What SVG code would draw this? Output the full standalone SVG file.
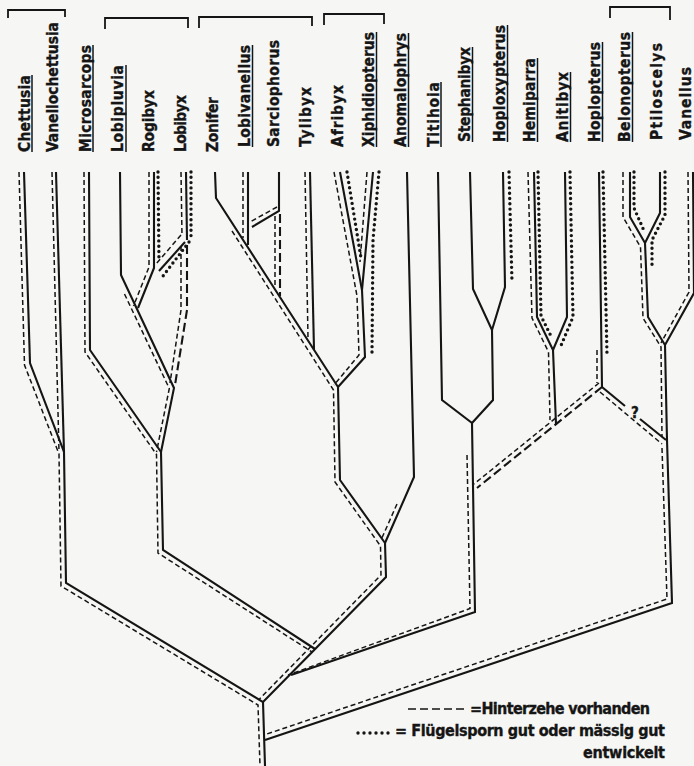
<svg xmlns="http://www.w3.org/2000/svg" width="694" height="766" viewBox="0 0 694 766">
<style>
.s{fill:none;stroke:#151515;stroke-width:2.1;stroke-linejoin:miter}
.d{fill:none;stroke:#151515;stroke-width:1.5;stroke-dasharray:5 3}
.l{fill:none;stroke:#151515;stroke-width:2.1;stroke-dasharray:9 4}
.p{fill:none;stroke:#151515;stroke-width:3.4;stroke-dasharray:0 5.3;stroke-linecap:round}
.b{fill:none;stroke:#151515;stroke-width:1.8}
.u{stroke:#151515;stroke-width:1.5}
text{font-family:"Liberation Sans Narrow","DejaVu Sans Condensed","Liberation Sans",sans-serif;font-weight:bold;fill:#151515;stroke:#151515;stroke-width:0.35}
.t{font-size:15.5px}
.lg{font-size:16px}
</style>
<rect width="694" height="766" fill="#f6f6f4"/>

<g id="brackets">
<path class="b" d="M8,18 V10 H65 V17"/>
<path class="b" d="M105,29 V18 H188 V28"/>
<path class="b" d="M199,28 V17 H312 V26"/>
<path class="b" d="M324,25 V14 H384 V24"/>
<path class="b" d="M610,18 V7 H670 V20"/>
</g>

<g id="n-chettusia"><text class="t" transform="translate(30,152) rotate(-90)" textLength="77" lengthAdjust="spacing">Chettusia</text><line class="u" x1="32" y1="152" x2="32" y2="75"/></g>
<g id="n-vanellochettusia"><text class="t" transform="translate(58,152) rotate(-90)" textLength="130" lengthAdjust="spacing">Vanellochettusia</text></g>
<g id="n-microsarcops"><text class="t" transform="translate(91,152) rotate(-90)" textLength="107" lengthAdjust="spacing">Microsarcops</text><line class="u" x1="93" y1="152" x2="93" y2="45"/></g>
<g id="n-lobipluvia"><text class="t" transform="translate(123,152) rotate(-90)" textLength="87" lengthAdjust="spacing">Lobipluvia</text><line class="u" x1="126" y1="152" x2="126" y2="65"/></g>
<g id="n-rogibyx"><text class="t" transform="translate(154,152) rotate(-90)" textLength="62" lengthAdjust="spacing">Rogibyx</text></g>
<g id="n-lobibyx"><text class="t" transform="translate(186,152) rotate(-90)" textLength="57" lengthAdjust="spacing">Lobibyx</text></g>
<g id="n-zonifer"><text class="t" transform="translate(218,152) rotate(-90)" textLength="55" lengthAdjust="spacing">Zonifer</text></g>
<g id="n-lobivanellus"><text class="t" transform="translate(250,147) rotate(-90)" textLength="102" lengthAdjust="spacing">Lobivanellus</text><line class="u" x1="252.5" y1="147" x2="252.5" y2="45"/></g>
<g id="n-sarciophorus"><text class="t" transform="translate(279,147) rotate(-90)" textLength="107" lengthAdjust="spacing">Sarciophorus</text></g>
<g id="n-tylibyx"><text class="t" transform="translate(311,147) rotate(-90)" textLength="60" lengthAdjust="spacing">Tylibyx</text></g>
<g id="n-afribyx"><text class="t" transform="translate(343,147) rotate(-90)" textLength="62" lengthAdjust="spacing">Afribyx</text></g>
<g id="n-xiphidiopterus"><text class="t" transform="translate(374,147) rotate(-90)" textLength="115" lengthAdjust="spacing">Xiphidiopterus</text><line class="u" x1="376.5" y1="147" x2="376.5" y2="32"/></g>
<g id="n-anomalophrys"><text class="t" transform="translate(406,147) rotate(-90)" textLength="114" lengthAdjust="spacing">Anomalophrys</text><line class="u" x1="408.5" y1="147" x2="408.5" y2="33"/></g>
<g id="n-titihoia"><text class="t" transform="translate(439,147) rotate(-90)" textLength="65" lengthAdjust="spacing">Titihoia</text><line class="u" x1="441" y1="147" x2="441" y2="82"/></g>
<g id="n-stephanibyx"><text class="t" transform="translate(470,142) rotate(-90)" textLength="95" lengthAdjust="spacing">Stephanibyx</text><line class="u" x1="472.5" y1="142" x2="472.5" y2="47"/></g>
<g id="n-hoploxypterus"><text class="t" transform="translate(505,142) rotate(-90)" textLength="117" lengthAdjust="spacing">Hoploxypterus</text><line class="u" x1="507.5" y1="142" x2="507.5" y2="25"/></g>
<g id="n-hemiparra"><text class="t" transform="translate(535,142) rotate(-90)" textLength="84" lengthAdjust="spacing">Hemiparra</text><line class="u" x1="537.5" y1="142" x2="537.5" y2="58"/></g>
<g id="n-anitibyx"><text class="t" transform="translate(568,142) rotate(-90)" textLength="70" lengthAdjust="spacing">Anitibyx</text><line class="u" x1="570.5" y1="142" x2="570.5" y2="72"/></g>
<g id="n-hoplopterus"><text class="t" transform="translate(600,142) rotate(-90)" textLength="100" lengthAdjust="spacing">Hoplopterus</text><line class="u" x1="602.5" y1="142" x2="602.5" y2="42"/></g>
<g id="n-belonopterus"><text class="t" transform="translate(630,142) rotate(-90)" textLength="110" lengthAdjust="spacing">Belonopterus</text><line class="u" x1="632.5" y1="142" x2="632.5" y2="32"/></g>
<g id="n-ptiloscelys"><text class="t" transform="translate(662,140) rotate(-90)" textLength="97" lengthAdjust="spacing">Ptiloscelys</text></g>
<g id="n-vanellus"><text class="t" transform="translate(691,140) rotate(-90)" textLength="73" lengthAdjust="spacing">Vanellus</text></g>

<g id="connectors">
<path class="s" d="M24,172 L30,363 L64,452 L66,583 L263,702 L265,766"/>
<path class="s" d="M56,172 L64,452"/>
<path class="s" d="M89,172 L90,350 L161,452 L163,550 L315,649"/>
<path class="s" d="M120,172 L121,275 L174,388 L161,452"/>
<path class="s" d="M154,172 L154,268 L138,308"/>
<path class="s" d="M186,172 L187,240"/>
<path class="s" d="M185,242 L159,271"/>
<path class="s" d="M215,172 L216,198 L338,387 L340,480 L385,543 L386,577 L263,702"/>
<path class="s" d="M248,172 L248,245"/>
<path class="s" d="M279,172 L279,211 L252,227"/>
<path class="s" d="M310,172 L314,350"/>
<path class="s" d="M340,172 L362,290 L365,357 L338,387"/>
<path class="s" d="M373,172 L362,290"/>
<path class="s" d="M407,172 L414,477 L385,543"/>
<path class="s" d="M438,172 L442,400 L472,423 L475,612 L291,675"/>
<path class="s" d="M470,172 L473,289 L492,330 L493,400 L472,423"/>
<path class="s" d="M503,172 L505,287 L492,330"/>
<path class="s" d="M534,172 L537,317 L553,350 L556,424"/>
<path class="s" d="M565,172 L567,317 L553,350"/>
<path class="s" d="M599,172 L602,387 L625,406 M640,419 L666,440"/>
<path class="s" d="M630,172 L630,217 L645,243 L648,317 L665,345 L667,440 L672,603 L265,740"/>
<path class="s" d="M660,172 L660,213 L645,243"/>
<path class="s" d="M693,172 L694,293 L665,345"/>
<path class="l" d="M187,245 L187,310 L175,385"/>
<path class="l" d="M280,214 L280,296"/>
<path class="l" d="M602,387 L477,488"/>
<path class="d" d="M19,172 L24.5,365 L59,454 L61,586 L258,705 L260,766"/>
<path class="d" d="M52,172 L59,452"/>
<path class="d" d="M84,172 L85,352 L156.5,454.5 L158,553 L312,652"/>
<path class="d" d="M124.5,294 L169.3,388.5 L156.5,452"/>
<path class="d" d="M149,172 L149,267 L133.5,306"/>
<path class="d" d="M181,172 L182,236"/>
<path class="d" d="M181,235 L156,264"/>
<path class="d" d="M181,246 L181,310 L170,383"/>
<path class="d" d="M243,172 L243,238"/>
<path class="d" d="M232,231 L333.5,390 L335,482 L380.5,546 L381,575 L258.5,700"/>
<path class="d" d="M277,207 L250,222"/>
<path class="d" d="M275,216 L275,288"/>
<path class="d" d="M305,172 L308,338"/>
<path class="d" d="M334,172 L357,296 L359,355 L334,385"/>
<path class="d" d="M367,172 L360,262"/>
<path class="d" d="M397,504 L381,540"/>
<path class="d" d="M467,455 L470,608.5 L288,675"/>
<path class="d" d="M528,172 L532,318 L548.5,352 L550,420"/>
<path class="d" d="M599,383 L474,484"/>
<path class="d" d="M597,350 L597,383"/>
<path class="d" d="M600,392 L662,444"/>
<path class="d" d="M623,172 L623,217 L640.5,247 L643,318 L661,347 L662,437"/>
<path class="d" d="M688,172 L689,292 L661,343"/>
<path class="d" d="M662,448 L667,599 L264,735"/>
<path class="p" d="M158,172 L159,262"/>
<path class="p" d="M191,172 L191,238"/>
<path class="p" d="M189,242 L163,276"/>
<path class="p" d="M347,172 L361,258"/>
<path class="p" d="M379,172 L373,240 L372,352"/>
<path class="p" d="M509,172 L512,282"/>
<path class="p" d="M538,172 L541,316 L552,338"/>
<path class="p" d="M570,172 L573,317 L560,348"/>
<path class="p" d="M603,172 L607,355"/>
<path class="p" d="M634,172 L634,208 L645,233"/>
<path class="p" d="M665,172 L665,215 L652,240 L652,267"/>
<text x="635" y="418" font-size="15" text-anchor="middle">?</text>
</g>

<g id="legend">
<line class="d" x1="408" y1="709" x2="465" y2="709" style="stroke-dasharray:8 4"/>
<text class="lg" x="470" y="714" textLength="180" lengthAdjust="spacing">=Hinterzehe vorhanden</text>
<line class="p" x1="358" y1="733" x2="389" y2="733" style="stroke-dasharray:0 6"/>
<text class="lg" x="395" y="736" textLength="270" lengthAdjust="spacing">= Flügelsporn gut oder mässig gut</text>
<text class="lg" x="583" y="758" textLength="82" lengthAdjust="spacing">entwickelt</text>
</g>
</svg>
